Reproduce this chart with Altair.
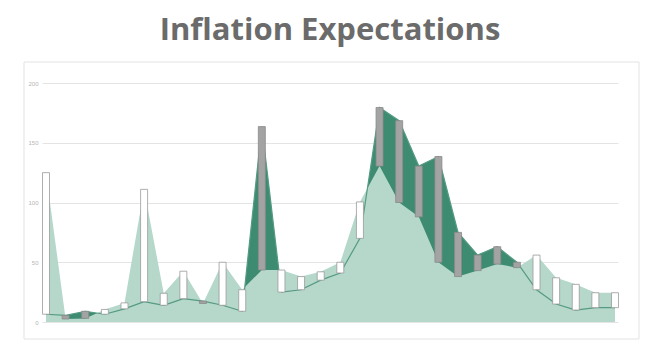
import altair as alt
import pandas as pd

# ---- data ----
idx = list(range(30))
light = [125, 2.5, 3, 10.5, 16, 111, 24, 42.5, 15.5, 50, 27, 43.5, 43.5, 38, 42,
         50, 100.5, 130.5, 100, 88, 50, 38, 43, 48.5, 45.5, 56, 37, 31.5, 24.5, 24.5]
dark = [6.5, 5.5, 9, 6.5, 11, 17, 14, 19.5, 17.5, 14, 9, 163.5, 25, 27, 35,
        41, 70, 179.5, 168.5, 130.5, 138.5, 75, 56, 63, 50, 27, 15, 10, 12, 12]
y_ticks = [0, 50, 100, 150, 200]
title_text = "Inflation Expectations"

df = pd.DataFrame({"idx": idx, "light": light, "dark": dark})
df["lo"] = df[["light", "dark"]].min(axis=1)
df["hi"] = df[["light", "dark"]].max(axis=1)
df["kind"] = ["up" if l >= d else "down" for l, d in zip(light, dark)]

xs = alt.Scale(domain=[-0.204, 29.153], nice=False, zero=False, padding=0)
ys = alt.Scale(domain=[0, 200], nice=False, padding=0)
yaxis = alt.Axis(
    values=y_ticks, grid=True, gridColor="#e4e4e4", gridWidth=1,
    domain=False, ticks=False, labelFontSize=6, labelColor="#b5b5b5",
    labelPadding=4, title=None)

base = alt.Chart(df)
X = alt.X("idx:Q", scale=xs, axis=None)

dark_area = base.mark_area(color="#3d8b70", opacity=1).encode(
    x=X, y=alt.Y("dark:Q", scale=ys, axis=yaxis),
)

light_area = base.mark_area(color="#b5d8cb", opacity=1).encode(
    x=X, y=alt.Y("light:Q", scale=ys, axis=yaxis),
)

dark_line = base.mark_line(color="#559a83", strokeWidth=1.2).encode(
    x=X, y=alt.Y("dark:Q", scale=ys, axis=yaxis),
)

bars = base.mark_bar(size=7, strokeWidth=0.8, orient="vertical").encode(
    x=X,
    y=alt.Y("lo:Q", scale=ys, axis=yaxis),
    y2="hi:Q",
    fill=alt.Fill("kind:N", scale=alt.Scale(domain=["up", "down"], range=["#ffffff", "#a3a3a3"]), legend=None),
    stroke=alt.Stroke("kind:N", scale=alt.Scale(domain=["up", "down"], range=["#9a9a9a", "#8a8a8a"]), legend=None),
)

frame = alt.Chart(pd.DataFrame({"a": [0]})).mark_rect(
    fillOpacity=0, stroke="#e3e3e3", strokeWidth=1
).encode(x=alt.value(-18), x2=alt.value(597), y=alt.value(-21), y2=alt.value(256))

title = alt.Chart(pd.DataFrame({"t": [title_text]})).mark_text(
    font="Open Sans", fontSize=31, fontWeight="bold", color="#6b6b6b",
    align="center", baseline="alphabetic"
).encode(x=alt.value(288), y=alt.value(-43), text="t:N")

chart = alt.layer(frame, dark_area, light_area, dark_line, bars, title).properties(
    width=576, height=239,
    autosize=alt.AutoSizeParams(type="none"),
    padding={"left": 34, "top": 75, "right": 25, "bottom": 20},
    background="#ffffff",
).configure_view(stroke=None).configure_axis(gridColor="#e4e4e4")

chart.save("out.html", embed_options={"renderer": "svg", "actions": False})
